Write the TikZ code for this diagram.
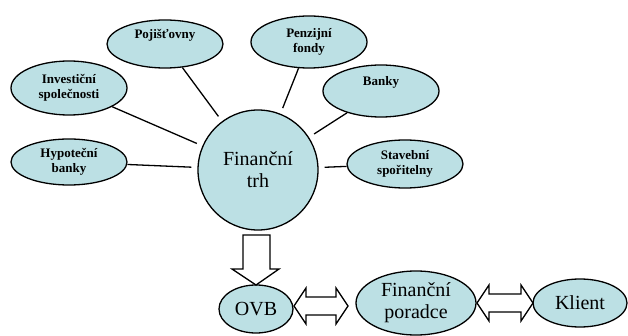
\documentclass[tikz,border=0pt]{standalone}
\usepackage{fontspec}
\setmainfont{Liberation Serif}
\usetikzlibrary{shapes.geometric}
\definecolor{bubble}{RGB}{188,224,228}

\begin{document}
\begin{tikzpicture}[x=1pt,y=-1pt,
  bubble/.style={draw,line width=1.3pt,fill=bubble,ellipse,inner sep=0pt,align=center},
  small/.style={bubble,minimum width=116pt,font=\fontsize{13}{15.5}\selectfont\bfseries},
  big/.style={bubble,font=\fontsize{20}{22}\selectfont},
  link/.style={line width=1.3pt,shorten >=6pt},
  block/.style={draw,line width=1.3pt,fill=white,line join=miter}]

\useasboundingbox (0,0) rectangle (628,336);

% Market in the middle
\node[big,circle,minimum size=120pt] (trh) at (258,170) {Finanční\\trh};

% Institutions around
\node[small,minimum height=48pt] (poj) at (165,44) {Pojišťovny\\ \strut};
\node[small,minimum height=54pt] (inv) at (69,88) {Investiční\\společnosti};
\node[small,minimum height=46pt] (hyp) at (69,162) {Hypoteční\\banky};
\node[small,minimum height=52pt] (pen) at (309,42) {Penzijní\\fondy};
\node[small,minimum height=52pt] (ban) at (381,91) {Banky\\ \strut};
\node[small,minimum height=48pt] (sta) at (405,164) {Stavební\\spořitelny};

% Lines
\draw[link] (poj) -- (trh);
\draw[link] (inv) -- (trh);
\draw[link] (hyp) -- (trh);
\draw[link] (pen) -- (trh);
\draw[link] (ban) -- (trh);
\draw[link] (sta) -- (trh);

% Chain at the bottom
\node[big,minimum width=74pt,minimum height=48pt] (ovb) at (256,309) {OVB};
\node[big,minimum width=120pt,minimum height=64pt] (por) at (416,303) {Finanční\\poradce};
\node[big,minimum width=94pt,minimum height=48pt] (kli) at (580,303) {Klient};

% Block arrows
\draw[block] (243,235) -- (270,235) -- (270,269) -- (279,269) -- (256,285)
  -- (232,269) -- (243,269) -- cycle;
\draw[block] (294,306) -- (306,288) -- (306,297) -- (336,297) -- (336,288)
  -- (348,306) -- (336,324) -- (336,315) -- (306,315) -- (306,324) -- cycle;
\draw[block] (477,303) -- (489,285) -- (489,294) -- (521,294) -- (521,285)
  -- (533,303) -- (521,321) -- (521,312) -- (489,312) -- (489,321) -- cycle;

\end{tikzpicture}
\end{document}
